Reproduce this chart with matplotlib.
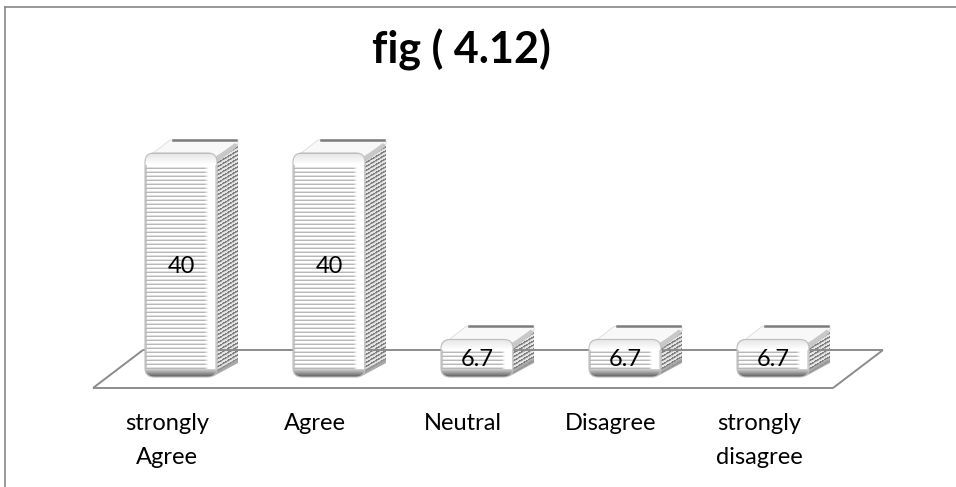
import numpy as np
import matplotlib
matplotlib.use("Agg")
import matplotlib.pyplot as plt
from matplotlib.patches import Polygon, FancyBboxPatch
from matplotlib.lines import Line2D
from matplotlib.transforms import ScaledTranslation, IdentityTransform, blended_transform_factory

# ---- data ----
categories = ["strongly\nAgree", "Agree", "Neutral", "Disagree", "strongly\ndisagree"]
values = [40, 40, 6.7, 6.7, 6.7]
value_labels = ["40", "40", "6.7", "6.7", "6.7"]
title = "fig ( 4.12)"

# ---- figure / layout ----
W, H, DPI = 956, 487, 100
FONT = ["Lato", "DejaVu Sans"]
fig = plt.figure(figsize=(W / DPI, H / DPI), dpi=DPI)
fig.patch.set_facecolor("white")
ax = fig.add_axes([0, 0, 1, 1])
ax.axis("off")

# category 0 sits at x=167 px, 148 px per category, value 0 at 388 px from top
X0, STEP, BASE, UNIT = 167, 148, 388, 5.6
XLIM = (-X0 / STEP, (W - X0) / STEP)
YLIM = (-(H - BASE) / UNIT, BASE / UNIT)
ax.set_xlim(*XLIM)
ax.set_ylim(*YLIM)

# 3D depth offsets (pixels): bar front plane, bar depth, floor depth
BAR_OFF = (14, 11)
BAR_DEPTH = (22, 13)
FLOOR_DEPTH = (50, 38)
BAR_W = 72 / STEP


def shifted(dx, dy):
    return ax.transData + ScaledTranslation(dx / DPI, dy / DPI, fig.dpi_scale_trans)


ident = IdentityTransform()
front_tr = shifted(*BAR_OFF)

# ---- floor ----
fl, fr = ax.transData.transform([(-0.5, 0), (len(values) - 0.5, 0)])
dxf, dyf = FLOOR_DEPTH
floor_col = "#8c8c8c"
for (a, b), z in [((fl, fr), 2), ((fr, fr + [dxf, dyf]), 2), ((fl, fl + [dxf, dyf]), 2),
                  ((fl + [dxf, dyf], fr + [dxf, dyf]), 3.5)]:
    ax.add_line(Line2D([a[0], b[0]], [a[1], b[1]], transform=ident, color=floor_col,
                       lw=1.4, zorder=z, solid_capstyle="butt"))

# ---- bars ----
bars = ax.bar(range(len(values)), values, width=BAR_W, transform=front_tr,
              color="white", edgecolor="none", zorder=4)


def front_texture(h, w):
    g = np.ones((h, w))
    rows = np.arange(h)
    from_bottom = h - 1 - rows
    stripe = np.where(from_bottom % 4 == 0, 0.72, np.where(from_bottom % 4 == 1, 0.88, 1.0))
    g = g * stripe[:, None]
    # left rim and right highlight
    cols = np.arange(w)
    fade = np.clip((w - 9 - cols) / 4.0, 0, 1)
    g = 1 - (1 - g) * fade[None, :]
    g[:, :2] = np.minimum(g[:, :2], 0.8)
    g[:, -2:] = np.minimum(g[:, -2:], 0.86)
    # rounded top bevel
    bev = int(min(12, h * 0.3))
    for r in range(bev):
        g[r, :] = 0.9 + 0.1 * (r / max(bev - 1, 1))
    g[0, :] = 0.74
    # dark bottom band
    band = 8
    for k in range(band):
        r = h - band + k
        g[r, :] = 0.8 - 0.42 * (k / (band - 1))
    return np.dstack([g, g, g])


def side_texture(h, w, slope):
    yy = np.arange(h)[:, None] + 0.5
    xx = np.arange(w)[None, :] + 0.5
    phase = (yy + xx * slope) % 4
    g = np.where(phase < 1.4, 0.5, np.where(phase < 2.1, 0.72, 0.9))
    g = np.array(g, dtype=float)
    g[:, :3] = 1 - (1 - g[:, :3]) * 0.3
    return np.dstack([g, g, g])


ddx, ddy = BAR_DEPTH
for bar, lab in zip(bars, value_labels):
    (x0, y0), (x1, y1) = front_tr.transform([(bar.get_x(), bar.get_y()),
                                              (bar.get_x() + bar.get_width(),
                                               bar.get_y() + bar.get_height())])
    rad = 9
    clip = FancyBboxPatch((x0, y0), x1 - x0, y1 - y0,
                          boxstyle=f"round,pad=0,rounding_size={rad}",
                          transform=ident, facecolor="none", edgecolor="none")
    bar.set_clip_path(clip)

    # side face
    side_pts = [(x1 - 3, y0 + 2), (x1 + ddx - 1, y0 + ddy + 2), (x1 + ddx - 1, y1 + ddy - 3),
                (x1 - 3, y1 - 3)]
    side_clip = Polygon(side_pts, closed=True, transform=ident)
    sh, sw = int(round(y1 + ddy - y0)), int(round(ddx + 3))
    ax.imshow(side_texture(sh, sw, ddy / ddx), extent=(x1 - 3, x1 + ddx, y0, y1 + ddy),
              transform=ident, aspect="auto", interpolation="bilinear", zorder=3,
              clip_path=side_clip)
    side_bottom = Polygon([(x1 - 3, y0 + 1), (x1 + ddx - 1, y0 + ddy + 1),
                           (x1 + ddx - 1, y0 + ddy + 6), (x1 - 3, y0 + 6)],
                          closed=True, transform=ident, facecolor="#9a9a9a",
                          edgecolor="none", zorder=3.1, alpha=0.8)
    ax.add_patch(side_bottom)

    # top face
    top_pts = [(x0 + 3, y1 - 4), (x0 + ddx + 3, y1 + ddy), (x1 + ddx - 1, y1 + ddy),
               (x1 + ddx - 1, y1 + ddy - 4), (x1 - 2, y1 - 4)]
    ax.add_patch(Polygon(top_pts, closed=True, transform=ident, facecolor="#f8f8f8",
                         edgecolor="#dcdcdc", lw=0.6, zorder=3.2))
    ax.add_line(Line2D([x0 + ddx + 6, x1 + ddx - 3], [y1 + ddy, y1 + ddy], transform=ident,
                       color="#7c7c7c", lw=1.8, zorder=3.3))
    ax.add_patch(Polygon([(x1 - 4, y1 - 6), (x1 + ddx - 4, y1 + ddy - 3),
                          (x1 + ddx - 1, y1 + ddy - 6), (x1 + 1, y1 - 9)],
                         closed=True, transform=ident, facecolor="#c8c8c8",
                         edgecolor="none", zorder=3.3))

    # front face texture
    fh, fw = int(round(y1 - y0)), int(round(x1 - x0))
    ax.imshow(front_texture(fh, fw), extent=(x0, x1, y0, y1), transform=ident,
              aspect="auto", interpolation="bilinear", zorder=4.1, clip_path=clip)
    ax.add_patch(FancyBboxPatch((x0, y0), x1 - x0, y1 - y0,
                                boxstyle=f"round,pad=0,rounding_size={rad}",
                                transform=ident, facecolor="none", edgecolor="#bdbdbd",
                                lw=0.8, zorder=4.2))

    # value label
    ax.text(bar.get_x() + bar.get_width() / 2, bar.get_y() + bar.get_height() / 2 - 0.3, lab,
            transform=front_tr, ha="center", va="center", fontsize=17,
            family=FONT, color="black", zorder=6)

# ---- category labels ----
lab_tr = blended_transform_factory(ax.transData, fig.transFigure)
for i, cat in enumerate(categories):
    for j, line in enumerate(cat.split("\n")):
        ax.text(i, 1 - (423 + 35 * j) / H, line, transform=lab_tr, ha="center",
                va="center", fontsize=17, family=FONT, color="black")

# ---- title ----
fig.text(461 / W, 1 - 50 / H, title, ha="center", va="center", fontsize=31,
         fontweight="bold", family=FONT, color="black")

# ---- chart frame ----
fig.add_artist(Line2D([5 / W, 1], [1 - 7 / H, 1 - 7 / H], transform=fig.transFigure,
                      color="#888888", lw=1.2))
fig.add_artist(Line2D([5 / W, 5 / W], [0, 1 - 7 / H], transform=fig.transFigure,
                      color="#888888", lw=1.2))

ax.set_xlim(*XLIM)
ax.set_ylim(*YLIM)
fig.savefig("out.png", dpi=DPI, facecolor="white")
